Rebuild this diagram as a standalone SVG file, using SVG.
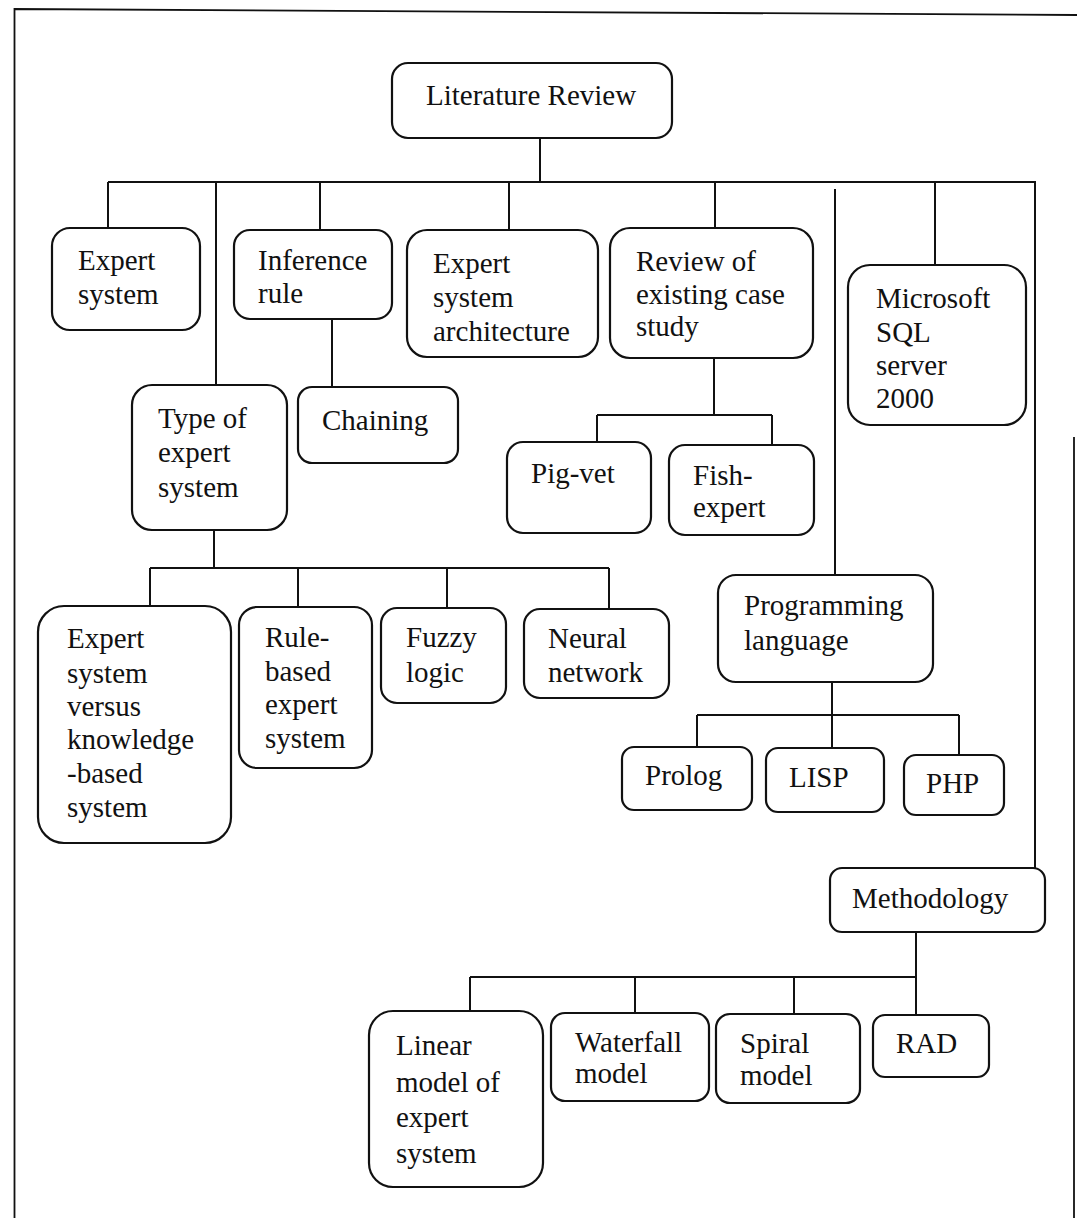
<svg xmlns="http://www.w3.org/2000/svg" width="1077" height="1218" viewBox="0 0 1077 1218">
<style>
.box{fill:#fff;stroke:#111;stroke-width:2.2}
.t{font-family:"Liberation Serif","Times New Roman",serif;font-size:29px;fill:#111}
.c{fill:none;stroke:#111;stroke-width:2}
.frame{fill:none;stroke:#111;stroke-width:1.8}
</style>
<rect width="1077" height="1218" fill="#fff"/>
<g id="frame"><path class="frame" d="M14.5 1218 V9 L1077 15"/><path class="frame" d="M1074 437 V1218"/></g>
<g id="connectors">
<path class="c" d="M540 138 V182 M108 182 H1036 M108 182 V228 M216 182 V385 M320 182 V230 M509 182 V230 M715 182 V228 M835 189 V575 M935 182 V265 M1035 182 V868"/>
<path class="c" d="M332 319 V387"/>
<path class="c" d="M214 530 V568 M150 568 H609 M150 568 V606 M298 568 V607 M447 568 V608 M609 568 V609"/>
<path class="c" d="M714 358 V415 M597 415 H772 M597 415 V442 M772 415 V445"/>
<path class="c" d="M832 682 V715 M697 715 H959 M697 715 V747 M832 715 V748 M959 715 V755"/>
<path class="c" d="M916 932 V977 M470 977 H916 M470 977 V1011 M635 977 V1013 M794 977 V1014 M916 977 V1015"/>
</g>
<g id="literature-review"><rect class="box" x="392" y="63" width="280" height="75" rx="16"/><text class="t" x="426" y="105">Literature Review</text></g>
<g id="expert-system"><rect class="box" x="52" y="228" width="148" height="102" rx="18"/><text class="t"><tspan x="78" y="270">Expert</tspan><tspan x="78" y="304">system</tspan></text></g>
<g id="inference-rule"><rect class="box" x="234" y="230" width="158" height="89" rx="16"/><text class="t"><tspan x="258" y="270">Inference</tspan><tspan x="258" y="303">rule</tspan></text></g>
<g id="architecture"><rect class="box" x="407" y="230" width="191" height="127" rx="20"/><text class="t"><tspan x="433" y="273">Expert</tspan><tspan x="433" y="307">system</tspan><tspan x="433" y="341">architecture</tspan></text></g>
<g id="review-case-study"><rect class="box" x="610" y="228" width="203" height="130" rx="20"/><text class="t"><tspan x="636" y="271">Review of</tspan><tspan x="636" y="304">existing case</tspan><tspan x="636" y="336">study</tspan></text></g>
<g id="mssql"><rect class="box" x="848" y="265" width="178" height="160" rx="22"/><text class="t"><tspan x="876" y="308">Microsoft</tspan><tspan x="876" y="342">SQL</tspan><tspan x="876" y="375">server</tspan><tspan x="876" y="408">2000</tspan></text></g>
<g id="type-of-expert-system"><rect class="box" x="132" y="385" width="155" height="145" rx="20"/><text class="t"><tspan x="158" y="428">Type of</tspan><tspan x="158" y="462">expert</tspan><tspan x="158" y="497">system</tspan></text></g>
<g id="chaining"><rect class="box" x="298" y="387" width="160" height="76" rx="14"/><text class="t" x="322" y="430">Chaining</text></g>
<g id="pig-vet"><rect class="box" x="507" y="442" width="144" height="91" rx="16"/><text class="t" x="531" y="483">Pig-vet</text></g>
<g id="fish-expert"><rect class="box" x="669" y="445" width="145" height="90" rx="16"/><text class="t"><tspan x="693" y="485">Fish-</tspan><tspan x="693" y="517">expert</tspan></text></g>
<g id="es-vs-kbs"><rect class="box" x="38" y="606" width="193" height="237" rx="26"/><text class="t"><tspan x="67" y="648">Expert</tspan><tspan x="67" y="683">system</tspan><tspan x="67" y="716">versus</tspan><tspan x="67" y="749">knowledge</tspan><tspan x="67" y="783">-based</tspan><tspan x="67" y="817">system</tspan></text></g>
<g id="rule-based"><rect class="box" x="239" y="607" width="133" height="161" rx="18"/><text class="t"><tspan x="265" y="647">Rule-</tspan><tspan x="265" y="681">based</tspan><tspan x="265" y="714">expert</tspan><tspan x="265" y="748">system</tspan></text></g>
<g id="fuzzy-logic"><rect class="box" x="381" y="608" width="125" height="95" rx="16"/><text class="t"><tspan x="406" y="647">Fuzzy</tspan><tspan x="406" y="682">logic</tspan></text></g>
<g id="neural-network"><rect class="box" x="524" y="609" width="145" height="89" rx="16"/><text class="t"><tspan x="548" y="648">Neural</tspan><tspan x="548" y="682">network</tspan></text></g>
<g id="programming-language"><rect class="box" x="718" y="575" width="215" height="107" rx="18"/><text class="t"><tspan x="744" y="615">Programming</tspan><tspan x="744" y="650">language</tspan></text></g>
<g id="prolog"><rect class="box" x="622" y="747" width="130" height="63" rx="12"/><text class="t" x="645" y="785">Prolog</text></g>
<g id="lisp"><rect class="box" x="766" y="748" width="118" height="64" rx="12"/><text class="t" x="789" y="787">LISP</text></g>
<g id="php"><rect class="box" x="904" y="755" width="100" height="60" rx="12"/><text class="t" x="926" y="793">PHP</text></g>
<g id="methodology"><rect class="box" x="830" y="868" width="215" height="64" rx="12"/><text class="t" x="852" y="908">Methodology</text></g>
<g id="linear-model"><rect class="box" x="369" y="1011" width="174" height="176" rx="24"/><text class="t"><tspan x="396" y="1055">Linear</tspan><tspan x="396" y="1092">model of</tspan><tspan x="396" y="1127">expert</tspan><tspan x="396" y="1163">system</tspan></text></g>
<g id="waterfall-model"><rect class="box" x="551" y="1013" width="158" height="88" rx="14"/><text class="t"><tspan x="575" y="1052">Waterfall</tspan><tspan x="575" y="1083">model</tspan></text></g>
<g id="spiral-model"><rect class="box" x="716" y="1014" width="144" height="89" rx="14"/><text class="t"><tspan x="740" y="1053">Spiral</tspan><tspan x="740" y="1085">model</tspan></text></g>
<g id="rad"><rect class="box" x="873" y="1015" width="116" height="62" rx="12"/><text class="t" x="896" y="1053">RAD</text></g>
</svg>
